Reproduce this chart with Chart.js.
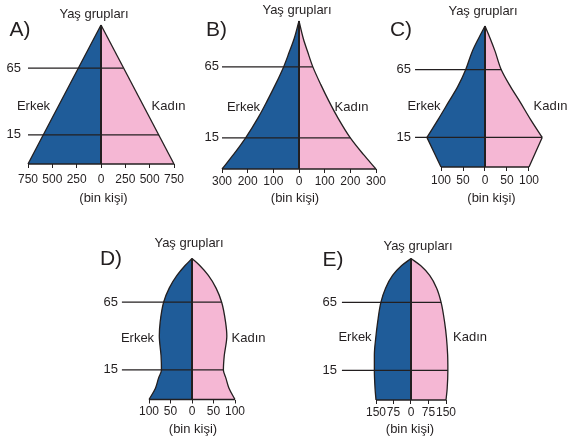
<!DOCTYPE html>
<html>
<head>
<meta charset="utf-8">
<script src="https://cdn.jsdelivr.net/npm/chart.js@4.4.1/dist/chart.umd.min.js"></script>
<style>
  body { margin: 0; background: #fff; }
  #page { position: relative; width: 568px; height: 441px; overflow: hidden;
          font-family: "Liberation Sans", Arial, sans-serif; color: #231f20; }
  #page canvas { position: absolute; }
  .t { position: absolute; font-size: 13px; line-height: 1; white-space: nowrap; transform: translate(-50%, -50%); }
  .big { font-size: 21px; }
</style>
</head>
<body>
<div id="page"></div>
<script>
const INK = '#231f20';
const BLUE = '#1f5c99';
const PINK = '#f5b7d4';
const FONT = { family: '"Liberation Sans", Arial, sans-serif', size: 13 };
const TICK_FONT = { family: '"Liberation Sans", Arial, sans-serif', size: 12 };

/* shared age axis: 0 = base of pyramid, 100 = apex; the 15 and 65 lines sit here */
const AGE_LEVELS = [21, 69];
const AGE_LABELS = ['15', '65'];

/* ---- A) straight sided pyramid ---- */
const A_TICKS = [-750, -500, -250, 0, 250, 500, 750];
const A_LEVELS = [0, 100];
const A_MALE = [750, 0];
const A_FEMALE = [750, 0];
const A_LINE_END = [596, 226];

/* ---- B) concave pyramid ---- */
const B_TICKS = [-300, -200, -100, 0, 100, 200, 300];
const B_LEVELS = [0, 10, 21, 35, 46, 57, 69, 79, 88, 100];
const B_MALE = [300, 254, 208, 158, 124, 92, 60, 38, 19, 0];
const B_FEMALE = [300, 250, 200, 150, 116, 85, 54, 34, 17, 0];
const B_LINE_END = [200, 54];

/* ---- C) narrowing base ---- */
const C_TICKS = [-100, -50, 0, 50, 100];
const C_LOW_LEVELS = [0, 21];
const C_MALE_LOW = [100, 132];
const C_FEMALE_LOW = [100, 130];
const C_LEVELS = [21, 34, 46, 57, 69, 82, 91, 100];
const C_MALE = [132, 106, 83, 62, 44, 29, 15, 0];
const C_FEMALE = [130, 103, 80, 58, 37, 23, 12, 0];
const C_LINE_END = [130, 37];

/* ---- D) bell ---- */
const D_TICKS = [-100, -50, 0, 50, 100];
const D_LEVELS = [0, 8, 15, 21, 31, 45, 55, 69, 79, 88, 95, 100];
const D_MALE = [100, 85, 78, 71, 72, 76, 74, 66, 53, 35, 16, 0];
const D_FEMALE = [100, 86, 79, 73, 75, 81, 78, 69, 56, 38, 18, 0];
const D_LINE_END = [73, 69];

/* ---- E) arch ---- */
const E_TICKS = [-150, -75, 0, 75, 150];
const E_LEVELS = [0, 8, 21, 32, 44, 55, 69, 79, 88, 95, 100];
const E_MALE = [150, 154, 157, 157, 151, 143, 129, 109, 79, 40, 0];
const E_FEMALE = [150, 155, 158, 157, 152, 144, 129, 110, 80, 41, 0];
const E_LINE_END = [158, 129];

/* layout of each panel on the page (pixels) */
const PANELS = [
  { letter: 'A)', ticks: A_TICKS, min: -750, max: 750, x0: 101, ppu: 73 / 750, top: 25, bottom: 164, yPad: 7, xPad: 3,
    parts: [[A_LEVELS, A_MALE, A_FEMALE]], lineEnd: A_LINE_END,
    pos: { letter: [20, 28], title: [94, 13], erkek: [33.5, 105], kadin: [168.5, 105], unit: [103.5, 197] } },
  { letter: 'B)', ticks: B_TICKS, min: -300, max: 300, x0: 299, ppu: 77 / 300, top: 21, bottom: 169, yPad: 3, xPad: 0,
    parts: [[B_LEVELS, B_MALE, B_FEMALE]], lineEnd: B_LINE_END,
    pos: { letter: [216.5, 28], title: [297, 8.5], erkek: [243.5, 106], kadin: [351.5, 106], unit: [295, 197] } },
  { letter: 'C)', ticks: C_TICKS, min: -159, max: 170, x0: 485, ppu: 0.44, top: 26, bottom: 167, yPad: 4, xPad: 1,
    parts: [[C_LOW_LEVELS, C_MALE_LOW, C_FEMALE_LOW], [C_LEVELS, C_MALE, C_FEMALE]], lineEnd: C_LINE_END,
    pos: { letter: [401, 28], title: [483, 9.5], erkek: [424, 105], kadin: [550.5, 105], unit: [491.5, 197] } },
  { letter: 'D)', ticks: D_TICKS, min: -163, max: 105, x0: 192, ppu: 0.43, top: 258.5, bottom: 399.5, yPad: 4, xPad: 0,
    parts: [[D_LEVELS, D_MALE, D_FEMALE]], lineEnd: D_LINE_END,
    pos: { letter: [111, 257], title: [189, 242], erkek: [137.5, 337], kadin: [248.5, 337], unit: [193, 428] } },
  { letter: 'E)', ticks: E_TICKS, min: -296, max: 160, x0: 411, ppu: 35 / 150, top: 258.5, bottom: 400, yPad: 5, xPad: 0,
    parts: [[E_LEVELS, E_MALE, E_FEMALE]], lineEnd: E_LINE_END,
    pos: { letter: [333, 258], title: [418, 245], erkek: [355, 336], kadin: [470, 336], unit: [410, 428] } },
];

const page = document.getElementById('page');

function sideDataset(levels, values, sign, color) {
  return {
    data: levels.map((lv, i) => ({ x: sign * values[i], y: lv })),
    backgroundColor: color,
    borderColor: INK,
    borderWidth: 1.3,
    fill: 'origin',
    cubicInterpolationMode: 'monotone',
    pointRadius: 0,
    clip: false,
    order: 3,
  };
}

function strokeDataset(points, width, order) {
  return {
    data: points,
    borderColor: INK,
    borderWidth: width,
    fill: false,
    tension: 0,
    pointRadius: 0,
    clip: false,
    order,
  };
}

function buildDatasets(p) {
  const ds = [];
  p.parts.forEach(([levels, male, female]) => {
    ds.push(sideDataset(levels, male, -1, BLUE));
    ds.push(sideDataset(levels, female, 1, PINK));
  });
  const [baseLevels, baseMale, baseFemale] = p.parts[0];
  ds.push(strokeDataset([{ x: -baseMale[0], y: baseLevels[0] }, { x: baseFemale[0], y: baseLevels[0] }], 1.5, 2));
  AGE_LEVELS.forEach((lv, i) => {
    ds.push(strokeDataset([{ x: p.min, y: lv }, { x: p.lineEnd[i], y: lv }], 1.3, 2));
  });
  ds.push(strokeDataset([{ x: 0, y: 0 }, { x: 0, y: 100 }], 2, 1));
  return ds;
}

function addText(txt, xy, cls) {
  const el = document.createElement('div');
  el.className = 't' + (cls ? ' ' + cls : '');
  el.textContent = txt;
  el.style.left = xy[0] + 'px';
  el.style.top = xy[1] + 'px';
  page.appendChild(el);
}

function makePanel(p) {
  const areaL = p.x0 + p.min * p.ppu;
  const areaR = p.x0 + p.max * p.ppu;
  const boxL = Math.floor(areaL - 45);
  const boxT = Math.floor(p.top - 30);
  const w = Math.ceil(areaR + 30 - boxL);
  const h = Math.ceil(p.bottom + 45 - boxT);
  const yAxisW = areaL - boxL;
  const xAxisH = boxT + h - p.bottom;

  const canvas = document.createElement('canvas');
  canvas.width = w;
  canvas.height = h;
  canvas.style.left = boxL + 'px';
  canvas.style.top = boxT + 'px';
  canvas.style.width = w + 'px';
  canvas.style.height = h + 'px';
  page.appendChild(canvas);

  new Chart(canvas, {
    type: 'line',
    data: { datasets: buildDatasets(p) },
    options: {
      responsive: false,
      animation: false,
      indexAxis: 'y',
      layout: { padding: { left: 0, top: p.top - boxT, right: boxL + w - areaR, bottom: 0 } },
      plugins: { legend: { display: false }, tooltip: { enabled: false } },
      elements: { point: { radius: 0 } },
      scales: {
        x: {
          type: 'linear', min: p.min, max: p.max,
          afterBuildTicks: s => { s.ticks = p.ticks.map(v => ({ value: v })); },
          afterFit: s => { s.height = xAxisH; },
          grid: { drawOnChartArea: false, drawTicks: true, tickLength: 4, color: INK, lineWidth: 1 },
          border: { display: false },
          ticks: { autoSkip: false, maxRotation: 0, minRotation: 0, padding: p.xPad + 1, color: INK, font: TICK_FONT,
                   callback: v => String(Math.abs(v)) },
        },
        y: {
          type: 'linear', min: 0, max: 100,
          afterBuildTicks: s => { s.ticks = AGE_LEVELS.map(v => ({ value: v })); },
          afterFit: s => { s.width = yAxisW; },
          grid: { display: false, drawTicks: false },
          border: { display: false },
          ticks: { padding: p.yPad, color: INK, font: FONT,
                   callback: v => AGE_LABELS[AGE_LEVELS.indexOf(v)] },
        },
      },
    },
  });

  addText(p.letter, p.pos.letter, 'big');
  addText('Yaş grupları', p.pos.title);
  addText('Erkek', p.pos.erkek);
  addText('Kadın', p.pos.kadin);
  addText('(bin kişi)', p.pos.unit);
}

PANELS.forEach(makePanel);
</script>
</body>
</html>
